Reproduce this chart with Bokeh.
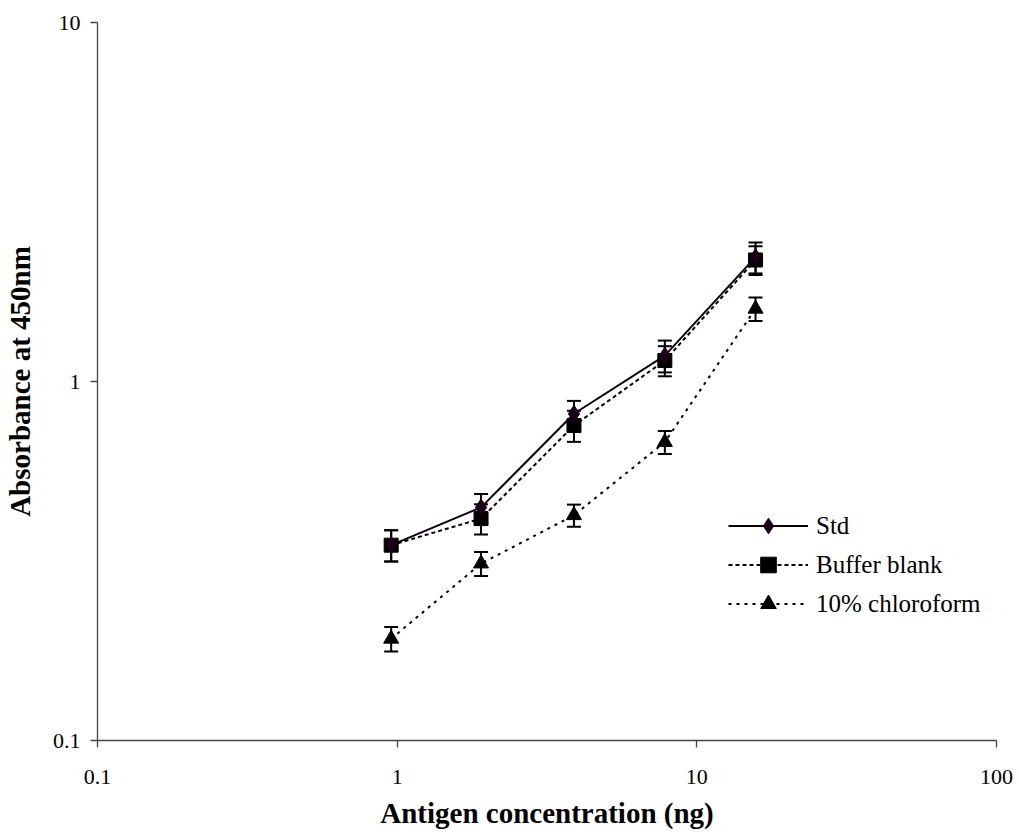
from bokeh.plotting import figure
from bokeh.models import (Whisker, TeeHead, ColumnDataSource, Legend, LegendItem,
                          FixedTicker)
from bokeh.embed import file_html
from bokeh.resources import INLINE

# ---- data ----
conc = [0.955, 1.905, 3.89, 7.82, 15.7]
std_vals = [0.35, 0.446, 0.813, 1.18, 2.22]
std_err = [0.035, 0.04, 0.07, 0.12, 0.22]
buf_vals = [0.35, 0.415, 0.754, 1.144, 2.18]
buf_err = [0.035, 0.04, 0.075, 0.11, 0.20]
chl_vals = [0.192, 0.311, 0.424, 0.678, 1.594]
chl_err = [0.015, 0.024, 0.03, 0.05, 0.12]

series_names = ["Std", "Buffer blank", "10% chloroform"]
x_ticks = [0.1, 1, 10, 100]
x_tick_labels = ["0.1", "1", "10", "100"]
y_ticks = [0.1, 1, 10]
y_tick_labels = ["0.1", "1", "10"]
x_title = "Antigen concentration (ng)"
y_title = "Absorbance at 450nm"

SERIF = "Liberation Serif"

p = figure(width=1019, height=835, x_axis_type="log", y_axis_type="log",
           x_range=(0.1, 100), y_range=(0.1, 10),
           output_backend="svg", toolbar_location=None,
           min_border_left=96, min_border_right=23, min_border_top=22,
           min_border_bottom=95)
p.outline_line_color = None
p.xgrid.visible = False
p.ygrid.visible = False
p.background_fill_color = "white"
p.border_fill_color = "white"

def mk_src(vals, errs):
    return ColumnDataSource(dict(x=conc, y=vals,
                                 lo=[v - e for v, e in zip(vals, errs)],
                                 hi=[v + e for v, e in zip(vals, errs)]))

src_std = mk_src(std_vals, std_err)
src_buf = mk_src(buf_vals, buf_err)
src_chl = mk_src(chl_vals, chl_err)

for src in (src_std, src_buf, src_chl):
    w = Whisker(source=src, base="x", upper="hi", lower="lo", dimension="height",
                line_color="black", line_width=2,
                upper_head=TeeHead(size=14, line_width=2, line_color="black"),
                lower_head=TeeHead(size=14, line_width=2, line_color="black"))
    p.add_layout(w)

l_chl = p.line("x", "y", source=src_chl, line_color="black", line_width=2, line_dash="3 5")
s_chl = p.scatter("x", "y", source=src_chl, marker="triangle", size=15,
                  fill_color="black", line_color="black")
l_buf = p.line("x", "y", source=src_buf, line_color="black", line_width=2, line_dash="4 3")
s_buf = p.scatter("x", "y", source=src_buf, marker="square", size=14,
                  fill_color="black", line_color="black")
l_std = p.line("x", "y", source=src_std, line_color="#0d000b", line_width=2)
s_std = p.scatter("x", "y", source=src_std, marker="diamond", size=17,
                  fill_color="#1a0016", line_color="#1a0016")

# axes
for ax in (p.xaxis[0], p.yaxis[0]):
    ax.axis_line_color = "#444444"
    ax.axis_line_width = 1.3
    ax.major_tick_line_color = "#444444"
    ax.major_tick_line_width = 1.3
    ax.major_tick_in = 0
    ax.major_tick_out = 7
    ax.minor_tick_line_color = None
    ax.major_label_text_font = SERIF
    ax.major_label_text_font_size = "22px"
    ax.major_label_text_color = "black"
    ax.axis_label_text_font = SERIF
    ax.axis_label_text_font_style = "bold"
    ax.axis_label_text_font_size = "29px"
    ax.axis_label_text_color = "black"

p.xaxis[0].ticker = FixedTicker(ticks=x_ticks)
p.xaxis[0].major_label_overrides = {t: s for t, s in zip(x_ticks, x_tick_labels)}
p.xaxis[0].major_label_standoff = 22
p.xaxis[0].axis_label = x_title
p.xaxis[0].axis_label_standoff = 10

p.yaxis[0].ticker = FixedTicker(ticks=y_ticks)
p.yaxis[0].major_label_overrides = {t: s for t, s in zip(y_ticks, y_tick_labels)}
p.yaxis[0].major_label_standoff = 10
p.yaxis[0].axis_label = y_title
p.yaxis[0].axis_label_standoff = 14

legend = Legend(items=[
    LegendItem(label=series_names[0], renderers=[l_std, s_std]),
    LegendItem(label=series_names[1], renderers=[l_buf, s_buf]),
    LegendItem(label=series_names[2], renderers=[l_chl, s_chl]),
], location=(631, 117), glyph_width=80, glyph_height=39, label_height=39,
   label_standoff=8, spacing=0, padding=0, margin=0,
   label_text_font=SERIF, label_text_font_size="25px", label_text_color="black",
   background_fill_alpha=0, border_line_color=None)
p.add_layout(legend, "center")

open("out.html", "w").write(file_html(p, INLINE))
